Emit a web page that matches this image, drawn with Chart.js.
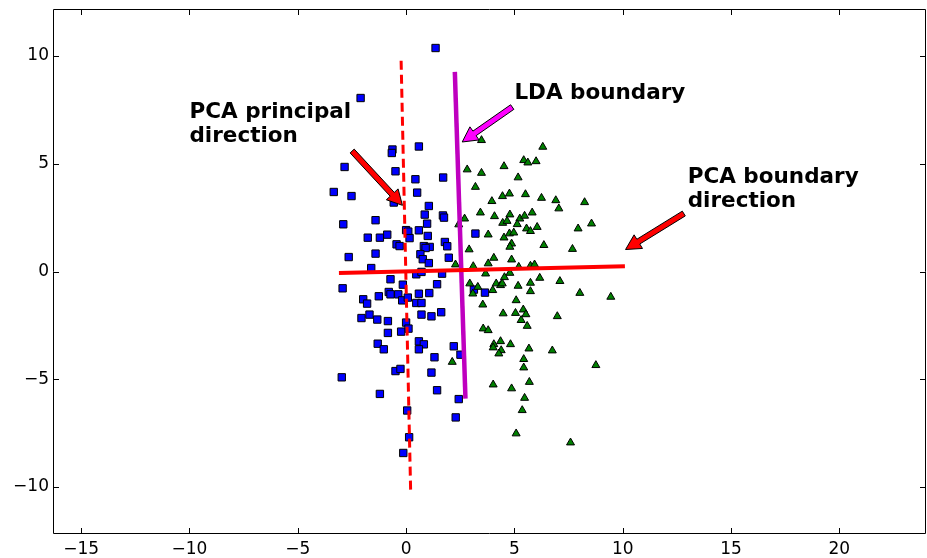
<!DOCTYPE html>
<html>
<head>
<meta charset="utf-8">
<script src="https://cdn.jsdelivr.net/npm/chart.js@4.4.0/dist/chart.umd.min.js"></script>
<style>
    html, body { margin: 0; padding: 0; background: #fff; }
    #wrap { width: 927px; height: 558px; position: relative; }
</style>
</head>
<body>
<div id="wrap"><canvas id="chart"></canvas></div>
<script>
(function () {
    'use strict';

    // axis ranges and ticks
    var xRange = [-16.3, 24];
    var yRange = [-12.18, 12.18];
    var xTicks = [-15, -10, -5, 0, 5, 10, 15, 20];
    var yTicks = [-10, -5, 0, 5, 10];

    // class 1: blue squares
    var blueSquares = [
        [1.36, 10.37], [-2.1, 8.05], [0.59, 5.8], [-0.63, 5.66], [-0.66, 5.5], [-2.84, 4.85],
        [-0.49, 4.65], [0.43, 4.28], [1.71, 4.36], [-3.34, 3.69], [-2.52, 3.5], [0.51, 3.66],
        [-0.57, 3.2], [1.05, 3.04], [0.86, 2.64], [1.7, 2.6], [1.75, 2.5], [0.97, 2.22],
        [-2.9, 2.19], [-1.41, 2.38], [0.0, 1.92], [0.1, 1.85], [0.59, 1.91], [1.0, 1.65],
        [-0.87, 1.71], [-1.21, 1.57], [-1.77, 1.57], [0.16, 1.55], [-0.44, 1.26], [-0.3, 1.18],
        [0.82, 1.18], [1.09, 1.14], [0.9, 1.09], [1.79, 1.37], [1.9, 1.17], [3.2, 1.76],
        [-1.41, 0.83], [-2.65, 0.67], [0.66, 0.8], [0.77, 0.57], [1.05, 0.39], [1.97, 0.64],
        [-1.61, 0.16], [0.47, -0.13], [0.71, -0.02], [1.66, -0.1], [1.43, -0.59], [-2.93, -0.78],
        [-0.72, -0.36], [-0.15, -0.61], [-1.98, -1.29], [-1.8, -1.49], [-1.26, -1.15], [-0.8, -0.95],
        [-0.72, -1.06], [-0.36, -1.06], [-0.18, -1.34], [0.08, -1.21], [0.59, -1.03], [1.07, -1.0],
        [0.47, -1.46], [0.71, -1.46], [-2.06, -2.16], [-1.69, -2.0], [-1.33, -2.23], [-0.84, -2.3],
        [0.71, -2.0], [1.17, -2.08], [1.62, -1.89], [0.0, -2.37], [0.11, -2.65], [-0.84, -2.85],
        [-0.23, -2.79], [-1.31, -3.35], [-1.03, -3.61], [0.59, -3.24], [0.82, -3.38], [0.59, -3.61],
        [2.2, -3.47], [2.51, -3.86], [1.31, -3.98], [-0.49, -4.62], [-0.26, -4.52], [-2.97, -4.91],
        [1.17, -4.69], [-1.21, -5.68], [1.43, -5.51], [2.43, -5.92], [0.05, -6.45], [2.29, -6.77],
        [0.14, -7.69], [-0.13, -8.42], [3.13, -0.84], [3.64, -0.98]
    ];

    // class 2: green triangles
    var greenTriangles = [
        [3.48, 6.09], [2.82, 4.73], [3.48, 4.57], [6.31, 5.78], [5.43, 5.16], [5.62, 5.05],
        [6.0, 5.11], [4.52, 4.88], [5.17, 4.36], [3.2, 3.92], [3.96, 3.26], [4.45, 3.49],
        [4.77, 3.61], [5.51, 3.58], [6.25, 3.41], [6.91, 3.3], [7.05, 2.92], [8.24, 3.21],
        [2.7, 2.45], [3.43, 2.73], [4.08, 2.56], [4.46, 2.25], [4.66, 2.34], [4.79, 2.64],
        [5.25, 2.45], [5.47, 2.58], [5.82, 2.73], [5.13, 2.19], [5.56, 1.99], [5.74, 1.87],
        [6.05, 2.06], [2.43, 2.18], [4.52, 1.57], [4.77, 1.76], [4.97, 1.8], [7.94, 1.99],
        [8.56, 2.22], [3.79, 1.71], [2.91, 1.02], [4.87, 1.29], [4.79, 1.14], [6.36, 1.22],
        [7.68, 1.04], [4.05, 0.63], [4.87, 0.55], [3.79, 0.37], [3.1, 0.24], [2.28, 0.32],
        [5.2, 0.21], [5.74, 0.26], [5.93, 0.32], [3.67, -0.1], [4.79, -0.07], [4.54, -0.27],
        [6.17, -0.3], [7.1, -0.45], [2.94, -0.56], [3.31, -0.72], [3.08, -1.03], [4.0, -0.87],
        [4.16, -0.56], [4.36, -0.64], [4.44, -0.56], [5.17, -0.67], [5.74, -0.53], [5.74, -0.92],
        [8.02, -1.0], [9.45, -1.18], [3.54, -1.54], [5.08, -1.34], [4.48, -1.95], [5.05, -1.93],
        [5.41, -1.77], [5.53, -1.99], [5.31, -2.26], [5.59, -2.53], [6.98, -2.08], [3.56, -2.65],
        [3.79, -2.73], [4.05, -3.38], [4.02, -3.53], [4.36, -3.24], [4.39, -3.66], [4.28, -3.81],
        [4.82, -3.38], [5.67, -3.58], [6.75, -3.67], [5.43, -4.07], [5.43, -4.46], [8.76, -4.35],
        [2.13, -4.2], [4.02, -5.25], [4.87, -5.43], [5.69, -5.13], [5.47, -5.87], [5.36, -6.44],
        [5.08, -7.52], [7.59, -7.94]
    ];

    // direction / boundary lines (end points)
    var pcaPrincipalLine = [[-0.23, 9.78], [0.21, -10.18]];
    var pcaBoundaryLine = [[-3.1, -0.07], [10.1, 0.24]];
    var ldaBoundaryLine = [[2.25, 9.26], [2.74, -5.9]];

    // annotations
    var annoText = [['PCA principal', 'direction'], ['LDA boundary'], ['PCA boundary', 'direction']];
    var annoAt = [[-10, 6], [5, 8], [13, 3]];
    var arrowFrom = [[-2.49, 5.59], [4.9, 7.63], [12.82, 2.69]];
    var arrowTo = [[-0.17, 3.07], [2.59, 6.01], [10.13, 1.02]];
    var arrowColor = ['#ff0000', '#ff00ff', '#ff0000'];

    var FONT = '"DejaVu Sans", "Liberation Sans", sans-serif';

    function pts(list) {
        return list.map(function (p) { return { x: p[0], y: p[1] }; });
    }

    function tickLabel(v) {
        return v < 0 ? '\u2212' + Math.abs(v) : String(v);
    }

    function lineDataset(list, color, width, dash, order) {
        return {
            data: pts(list),
            showLine: true,
            borderColor: color,
            borderWidth: width,
            borderDash: dash,
            borderCapStyle: 'butt',
            pointRadius: 0,
            fill: false,
            order: order
        };
    }

    function drawArrow(ctx, x0, y0, x1, y1, color) {
        var dx = x1 - x0, dy = y1 - y0;
        var len = Math.sqrt(dx * dx + dy * dy);
        var ux = dx / len, uy = dy / len;
        var px = -uy, py = ux;
        var hw = 2.8, hh = 8, hl = 15;
        var bx = x1 - ux * hl, by = y1 - uy * hl;
        ctx.beginPath();
        ctx.moveTo(x0 + px * hw, y0 + py * hw);
        ctx.lineTo(bx + px * hw, by + py * hw);
        ctx.lineTo(bx + px * hh, by + py * hh);
        ctx.lineTo(x1, y1);
        ctx.lineTo(bx - px * hh, by - py * hh);
        ctx.lineTo(bx - px * hw, by - py * hw);
        ctx.lineTo(x0 - px * hw, y0 - py * hw);
        ctx.closePath();
        ctx.fillStyle = color;
        ctx.fill();
        ctx.lineWidth = 1;
        ctx.strokeStyle = '#000';
        ctx.lineJoin = 'miter';
        ctx.stroke();
    }

    var framePlugin = {
        id: 'frame',
        afterDraw: function (chart) {
            var ctx = chart.ctx;
            var a = chart.chartArea;
            var xs = chart.scales.x, ys = chart.scales.y;
            var tl = 6;
            ctx.save();

            // arrows + annotation text
            for (var i = 0; i < annoText.length; i++) {
                drawArrow(ctx,
                    xs.getPixelForValue(arrowFrom[i][0]), ys.getPixelForValue(arrowFrom[i][1]),
                    xs.getPixelForValue(arrowTo[i][0]), ys.getPixelForValue(arrowTo[i][1]),
                    arrowColor[i]);
            }
            ctx.fillStyle = '#000';
            ctx.font = 'bold 21.5px ' + FONT;
            ctx.textAlign = 'left';
            ctx.textBaseline = 'alphabetic';
            for (var j = 0; j < annoText.length; j++) {
                var lines = annoText[j];
                var tx = xs.getPixelForValue(annoAt[j][0]);
                var ty = ys.getPixelForValue(annoAt[j][1]);
                for (var k = 0; k < lines.length; k++) {
                    ctx.fillText(lines[k], tx, ty - (lines.length - 1 - k) * 24);
                }
            }

            // box and inward ticks
            ctx.strokeStyle = '#000';
            ctx.lineWidth = 1;
            ctx.beginPath();
            ctx.rect(Math.round(a.left) + 0.5, Math.round(a.top) + 0.5,
                Math.round(a.right - a.left) - 1, Math.round(a.bottom - a.top) - 1);
            ctx.stroke();
            ctx.beginPath();
            xTicks.forEach(function (v) {
                var px = Math.round(xs.getPixelForValue(v)) + 0.5;
                ctx.moveTo(px, a.bottom);
                ctx.lineTo(px, a.bottom - tl);
                ctx.moveTo(px, a.top);
                ctx.lineTo(px, a.top + tl);
            });
            yTicks.forEach(function (v) {
                var py = Math.round(ys.getPixelForValue(v)) + 0.5;
                ctx.moveTo(a.left, py);
                ctx.lineTo(a.left + tl, py);
                ctx.moveTo(a.right, py);
                ctx.lineTo(a.right - tl, py);
            });
            ctx.stroke();
            ctx.restore();
        }
    };

    var tickFont = { family: FONT, size: 17 };

    new Chart(document.getElementById('chart'), {
        type: 'scatter',
        data: {
            datasets: [
                lineDataset(pcaBoundaryLine, '#ff0000', 4, [], 0),
                lineDataset(pcaPrincipalLine, '#ff0000', 3, [9, 5], 0.1),
                lineDataset(ldaBoundaryLine, '#bf00bf', 4.5, [], 0.2),
                {
                    data: pts(greenTriangles),
                    pointStyle: 'triangle',
                    pointRadius: 4.6,
                    backgroundColor: '#008000',
                    borderColor: '#000',
                    borderWidth: 1,
                    order: 1
                },
                {
                    data: pts(blueSquares),
                    pointStyle: 'rect',
                    pointRadius: 5.2,
                    backgroundColor: '#0000ff',
                    borderColor: '#000',
                    borderWidth: 1,
                    order: 2
                }
            ]
        },
        options: {
            responsive: true,
            maintainAspectRatio: false,
            animation: false,
            devicePixelRatio: 1,
            layout: { autoPadding: false, padding: { top: 9, right: 1, left: 0, bottom: 0 } },
            plugins: { legend: { display: false }, tooltip: { enabled: false } },
            elements: { point: { hoverRadius: 0 } },
            scales: {
                x: {
                    type: 'linear',
                    min: xRange[0],
                    max: xRange[1],
                    grid: { display: false, drawTicks: false },
                    border: { display: false },
                    ticks: { font: tickFont, color: '#000', padding: 5, maxRotation: 0, callback: tickLabel },
                    afterBuildTicks: function (s) { s.ticks = xTicks.map(function (v) { return { value: v }; }); },
                    afterFit: function (s) {
                        s.height = 24;
                        s.paddingLeft = 0;
                        s.paddingRight = 0;
                    }
                },
                y: {
                    type: 'linear',
                    min: yRange[0],
                    max: yRange[1],
                    grid: { display: false, drawTicks: false },
                    border: { display: false },
                    ticks: { font: tickFont, color: '#000', padding: 4, callback: tickLabel },
                    afterBuildTicks: function (s) { s.ticks = yTicks.map(function (v) { return { value: v }; }); },
                    afterFit: function (s) {
                        s.width = 53;
                        s.paddingTop = 0;
                        s.paddingBottom = 0;
                    }
                }
            }
        },
        plugins: [framePlugin]
    });
})();
</script>
</body>
</html>
